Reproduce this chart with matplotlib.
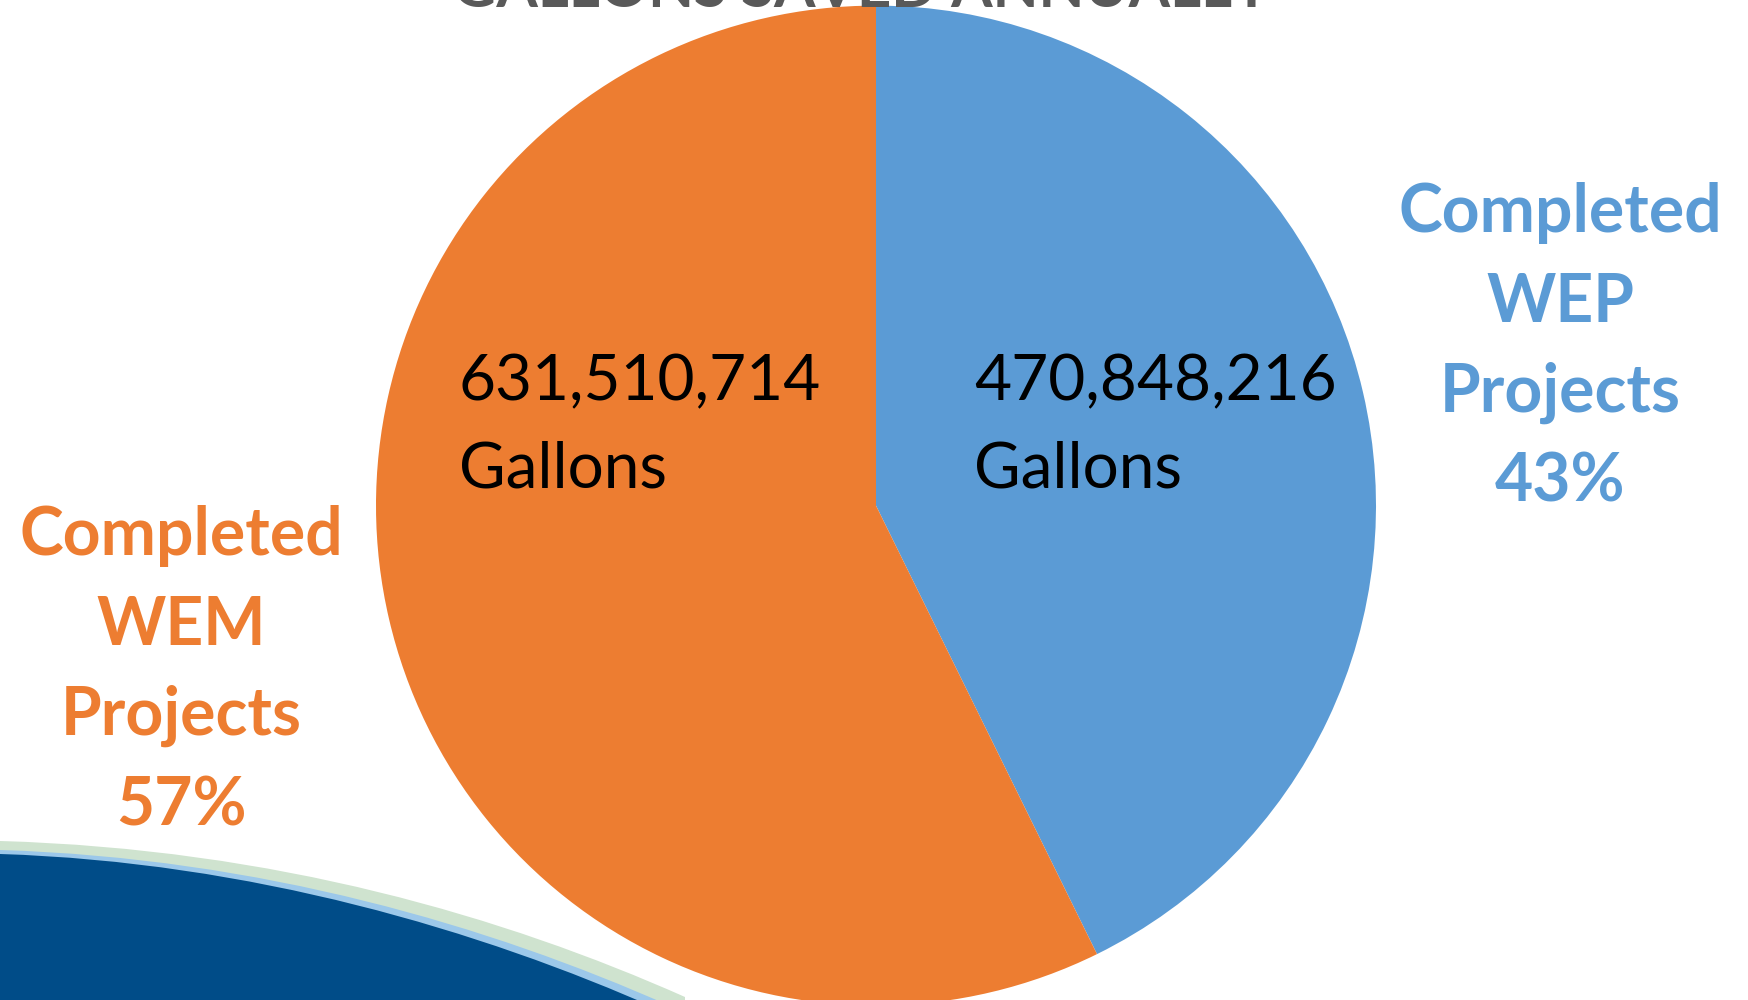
import matplotlib
matplotlib.use("Agg")
import matplotlib.pyplot as plt
from matplotlib.path import Path
from matplotlib.patches import PathPatch

# ---- data ----
title = "GALLONS SAVED ANNUALLY"
categories = ["Completed WEP Projects", "Completed WEM Projects"]
category_lines = [["Completed", "WEP", "Projects"], ["Completed", "WEM", "Projects"]]
gallons = [470848216, 631510714]
colors = ["#5B9BD5", "#ED7D31"]

W, H = 1748, 1000
fig = plt.figure(figsize=(W / 100, H / 100), dpi=100)
fig.patch.set_facecolor("white")

# ---- decorative wave (pixel coordinates, bottom-left) ----
bg = fig.add_axes([0, 0, 1, 1], zorder=0)
bg.set_xlim(0, W)
bg.set_ylim(H, 0)
bg.axis("off")


def wave(dy, dx, color):
    verts = [(0, 854 + dy), (250 + dx, 862 + dy), (480 + dx, 930 + dy), (660 + dx, 1010 + dy),
             (660 + dx, 1100), (0, 1100), (0, 854 + dy)]
    codes = [Path.MOVETO, Path.CURVE4, Path.CURVE4, Path.CURVE4,
             Path.LINETO, Path.LINETO, Path.CLOSEPOLY]
    bg.add_patch(PathPatch(Path(verts, codes), facecolor=color, edgecolor="none"))


wave(-13, 25, "#CFE3CF")
wave(-4, 10, "#9CC8EA")
wave(0, 0, "#004C88")

# ---- pie ----
ax = fig.add_axes([0, 0, 1, 1], zorder=1)
ax.patch.set_alpha(0)
cx, cy, r = 876, 505.6, 500.0
ax.pie(gallons, colors=colors, startangle=90, counterclock=False,
       radius=1, wedgeprops=dict(linewidth=0))
ax.set_xlim(-cx / r, (W - cx) / r)
ax.set_ylim(-(H - cy) / r, cy / r)
ax.set_aspect("auto")
ax.axis("off")

total = sum(gallons)


def fx(px):
    return px / W


def fy(py):
    return 1 - py / H


# title (mostly cut off at the top)
fig.text(fx(862), fy(7), title, ha="center", va="baseline", fontsize=43,
         fontweight="bold", color="#595959", family="Lato", zorder=3)

# value labels inside the wedges
value_pos = [(974, 400), (459, 400)]
for val, (px, py) in zip(gallons, value_pos):
    fig.text(fx(px), fy(py), f"{val:,}", ha="left", va="baseline",
             fontsize=46, color="black", family="Lato", zorder=3)
    fig.text(fx(px), fy(py + 87), "Gallons", ha="left", va="baseline",
             fontsize=46, color="black", family="Lato", zorder=3)

# category labels outside
cat_pos = [(1560, 232), (181, 555)]
for lines, val, col, (px, py) in zip(category_lines, gallons, colors, cat_pos):
    pct = f"{round(100 * val / total)}%"
    for i, t in enumerate(lines + [pct]):
        fig.text(fx(px), fy(py + 90 * i), t, ha="center", va="baseline",
                 fontsize=47.5, fontweight="bold", color=col, family="Lato", zorder=3)

fig.savefig("out.png", dpi=100, facecolor="white")
